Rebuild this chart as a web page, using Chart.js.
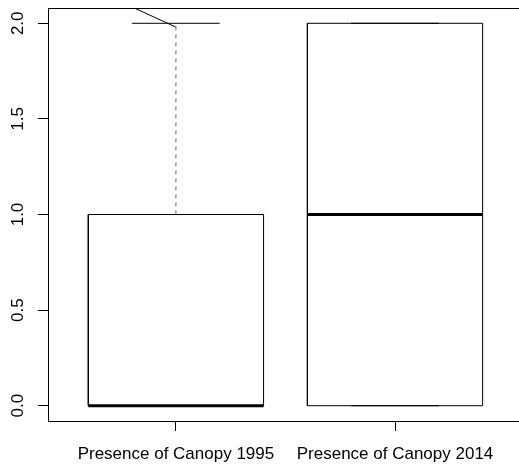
<!DOCTYPE html>
<html>
<head>
<meta charset="utf-8">
<script src="https://cdn.jsdelivr.net/npm/chart.js@4"></script>
<style>
  html, body { margin: 0; padding: 0; background: #fff; overflow: hidden; }
</style>
</head>
<body>
<canvas id="myChart" width="519" height="468"></canvas>
<script>
// box stats
const categories = ['Presence of Canopy 1995', 'Presence of Canopy 2014'];
const positions = [1, 2];
const mins = [0, 0];
const q1s = [0, 0];
const medians = [0, 1];
const q3s = [1, 2];
const maxs = [2, 2];

const yTicks = [0, 0.5, 1, 1.5, 2];

// stray segment near the top of the first whisker
const strayX = [0.81, 1.0];
const strayY = [2.08, 1.98];

const boxHalf = 0.4;
const capHalf = 0.2;

const lineSet = (pts, opts) => Object.assign({
  data: pts,
  showLine: true,
  pointRadius: 0,
  borderColor: '#000',
  borderWidth: 1,
  fill: false,
}, opts);

const datasets = [];
for (let i = 0; i < categories.length; i++) {
  let x = positions[i];
  // whiskers
  datasets.push(lineSet([{ x: x, y: q3s[i] }, { x: x, y: maxs[i] }], { borderDash: [4, 4], borderColor: '#666' }));
  datasets.push(lineSet([{ x: x, y: q1s[i] }, { x: x, y: mins[i] }], { borderDash: [4, 4], borderColor: '#666' }));
  // caps
  datasets.push(lineSet([{ x: x - capHalf, y: maxs[i] }, { x: x + capHalf, y: maxs[i] }]));
  datasets.push(lineSet([{ x: x - capHalf, y: mins[i] }, { x: x + capHalf, y: mins[i] }]));
  // box
  datasets.push(lineSet([
    { x: x - boxHalf, y: q1s[i] },
    { x: x + boxHalf, y: q1s[i] },
    { x: x + boxHalf, y: q3s[i] },
    { x: x - boxHalf, y: q3s[i] },
    { x: x - boxHalf, y: q1s[i] },
  ]));
  // median
  datasets.push(lineSet([{ x: x - boxHalf, y: medians[i] }, { x: x + boxHalf, y: medians[i] }], { borderWidth: 3, borderCapStyle: 'butt' }));
}
datasets.push(lineSet(strayX.map((v, k) => ({ x: v, y: strayY[k] }))));

const topLine = {
  id: 'topLine',
  afterDraw(chart) {
    const { ctx, chartArea } = chart;
    ctx.save();
    ctx.strokeStyle = '#000';
    ctx.lineWidth = 1;
    ctx.beginPath();
    ctx.moveTo(chartArea.left, chartArea.top + 0.5);
    ctx.lineTo(chartArea.right, chartArea.top + 0.5);
    ctx.stroke();
    ctx.restore();
  },
};

const font = { family: 'Liberation Sans', size: 17 };

const config = {
  type: 'scatter',
  data: { datasets: datasets },
  options: {
    responsive: false,
    animation: false,
    events: [],
    layout: { padding: { top: 8, left: 0, right: 0, bottom: 0 } },
    plugins: {
      legend: { display: false },
      tooltip: { enabled: false },
    },
    scales: {
      x: {
        type: 'linear',
        min: 0.416,
        max: 2.566,
        afterBuildTicks: (scale) => { scale.ticks = positions.map((v) => ({ value: v })); },
        afterFit: (scale) => {
          scale.height = 47;
          scale.paddingLeft = 0;
          scale.paddingRight = 0;
        },
        grid: { drawOnChartArea: false, tickLength: 10, color: '#000' },
        border: { color: '#000' },
        ticks: {
          color: '#000',
          font: font,
          padding: 13,
          maxRotation: 0,
          autoSkip: false,
          callback: (v) => categories[positions.indexOf(v)],
        },
      },
      y: {
        type: 'linear',
        min: -0.08,
        max: 2.08,
        afterBuildTicks: (scale) => { scale.ticks = yTicks.map((v) => ({ value: v })); },
        afterFit: (scale) => {
          scale.width = 48;
          scale.paddingTop = 0;
          scale.paddingBottom = 0;
        },
        grid: { drawOnChartArea: false, tickLength: 10, color: '#000' },
        border: { color: '#000' },
        ticks: {
          color: '#000',
          font: font,
          padding: 8,
          minRotation: 90,
          maxRotation: 90,
          crossAlign: 'center',
          callback: (v) => v.toFixed(1),
        },
      },
    },
  },
  plugins: [topLine],
};

const boxChart = new Chart(document.getElementById('myChart'), config);
</script>
</body>
</html>
